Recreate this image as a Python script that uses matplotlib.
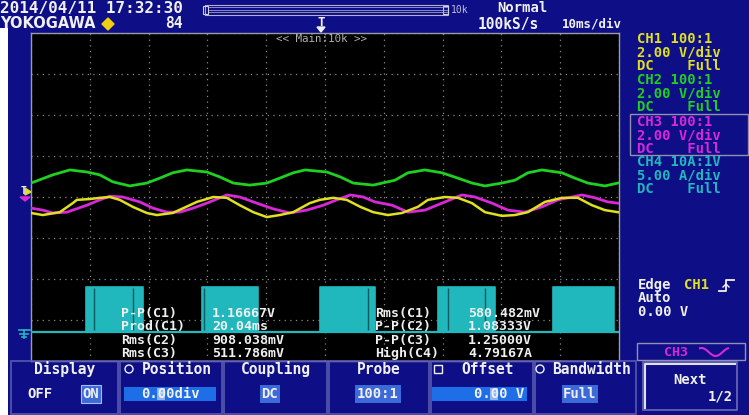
import matplotlib
matplotlib.use("Agg")
import matplotlib.pyplot as plt
from matplotlib.patches import Rectangle, Polygon, Circle
import numpy as np

# ---------------- data (time in ms, level in screen divisions) ----------------
ch2_t = [-50, -46.3, -43.4, -40.5, -38.3, -36.1, -33.2, -30.3, -28.1, -25.9, -23.5,
         -20.1, -17.9, -15.6, -12.8, -9.9, -7.7, -5.4, -3.4, 0.3, 2.6, 4.8, 8.2,
         11.9, 14.1, 17.0, 19.9, 22.6, 25.0, 27.2, 30.1, 32.3, 34.5, 36.9, 40.3,
         42.5, 44.7, 47.6, 49.8]
ch2_div = [0.34, 0.54, 0.66, 0.61, 0.54, 0.37, 0.27, 0.34, 0.46, 0.59, 0.66,
           0.61, 0.49, 0.34, 0.29, 0.34, 0.46, 0.59, 0.66, 0.61, 0.49, 0.34, 0.29,
           0.41, 0.59, 0.66, 0.59, 0.46, 0.34, 0.27, 0.34, 0.41, 0.59, 0.66, 0.59,
           0.46, 0.34, 0.27, 0.34]

ch1_t = [-50, -48, -45.1, -42.9, -42.2, -40.0, -38.3, -36.6, -34.9, -32.7, -30.3,
         -28.6, -25.9, -23.0, -21.8, -19.0, -16.7, -14.5, -12.2, -9.9, -7.7, -5.4,
         -2.6, -0.9, 1.4, 3.7, 6.0, 8.2, 10.7, 13.1, 15.8, 17.5, 20.4, 22.6, 25.0,
         27.2, 30.1, 32.3, 34.5, 37.4, 40.3, 43.0, 45.4, 47.6, 49.8]
ch1_div = [-0.39, -0.44, -0.37, -0.15, -0.07, -0.05, -0.02, 0.0, -0.07, -0.24, -0.39,
           -0.44, -0.39, -0.20, -0.12, 0.0, -0.02, -0.20, -0.37, -0.49, -0.44, -0.37,
           -0.15, -0.07, -0.02, -0.07, -0.24, -0.37, -0.44, -0.39, -0.24, -0.07, 0.0,
           -0.02, -0.15, -0.37, -0.46, -0.44, -0.37, -0.12, -0.02, -0.02, -0.20,
           -0.32, -0.37]

ch3_t = [-50, -48, -46.3, -43.9, -40.5, -38.3, -36.6, -34.4, -31.5, -29.3, -26.9,
         -24.7, -22.4, -20.1, -16.7, -14.5, -11.6, -8.8, -6.0, -3.1, -0.3, 2.0, 4.3,
         6.5, 8.5, 11.4, 14.1, 17.0, 19.9, 23.3, 25.5, 28.4, 31.1, 34.0, 36.9, 39.6,
         43.7, 45.9, 48.1, 49.8]
ch3_div = [-0.27, -0.32, -0.39, -0.37, -0.20, -0.07, 0.02, 0.0, -0.12, -0.27, -0.37,
           -0.37, -0.27, -0.15, 0.05, 0.0, -0.15, -0.29, -0.39, -0.32, -0.20, -0.07,
           0.05, 0.0, -0.12, -0.20, -0.37, -0.32, -0.15, 0.05, 0.0, -0.15, -0.32,
           -0.37, -0.24, -0.07, 0.05, -0.02, -0.12, -0.15]

ch4_pulse_start = [-40.6, -20.9, -0.9, 19.2, 38.8]
ch4_pulse_end = [-31.0, -11.4, 8.5, 28.9, 49.1]
ch4_gaps = [-39.3, -32.7, -20.6, 7.3, 20.9, 27.2]
ch4_low = -3.29
ch4_high = -2.20

date_text = "2014/04/11 17:32:30"
brand_text = "YOKOGAWA"
acq_count = "84"
trig_mode = "Normal"
sample_rate = "100kS/s"
time_div = "10ms/div"
zoom_label = "<< Main:10k >>"
mem_label = "10k"

ch_info = [["CH1 100:1", "2.00 V/div", "DC    Full"],
           ["CH2 100:1", "2.00 V/div", "DC    Full"],
           ["CH3 100:1", "2.00 V/div", "DC    Full"],
           ["CH4 10A:1V", "5.00 A/div", "DC    Full"]]

meas_left_names = ["P-P(C1)", "Prod(C1)", "Rms(C2)", "Rms(C3)"]
meas_left_vals = ["1.16667V", "20.04ms", "908.038mV", "511.786mV"]
meas_right_names = ["Rms(C1)", "P-P(C2)", "P-P(C3)", "High(C4)"]
meas_right_vals = ["580.482mV", "1.08333V", "1.25000V", "4.79167A"]

menu_labels = ["Display", "Position", "Coupling", "Probe", "Offset", "Bandwidth"]
trig_lines = ["Edge", "Auto", "0.00 V"]

# ---------------- styles ----------------
BG = "#0e0e86"
YEL = "#e0e020"
GRN = "#20d020"
MAG = "#d828d8"
CYN = "#20b8bc"
WHITE = "#f0f0f0"
MONO = "DejaVu Sans Mono"
ch_colors = [YEL, GRN, MAG, CYN]

W, H = 749, 415
fig = plt.figure(figsize=(W / 100, H / 100), dpi=100, facecolor=BG)

# scope display axes
L, T, R, B = 31, 33, 619, 361
ax = fig.add_axes([L / W, (H - B) / H, (R - L) / W, (B - T) / H])
ax.set_facecolor("black")
ax.set_xlim(-50, 50)
ax.set_ylim(-4, 4)
ax.set_xticks(np.arange(-50, 51, 10))
ax.set_yticks(np.arange(-4, 5, 1))
ax.tick_params(length=0, labelbottom=False, labelleft=False)
ax.grid(True, color="#8a8a8a", linestyle=(0, (1, 3.5)), linewidth=0.9)
for s in ax.spines.values():
    s.set_color("#9a9aa8")
    s.set_linewidth(1.0)

# CH4 current trace
ax.plot([-50, 50], [ch4_low, ch4_low], color=CYN, lw=1.6, zorder=3)
for s, e in zip(ch4_pulse_start, ch4_pulse_end):
    ax.fill_between([s, e], ch4_low, ch4_high, color=CYN, lw=0, zorder=3)
    ax.plot([s, s, e, e], [ch4_low, ch4_high, ch4_high, ch4_low], color=CYN, lw=1.2, zorder=3)
ax.vlines(ch4_gaps, ch4_low + 0.05, ch4_high - 0.03, color="#0b5c60", lw=1.0, zorder=3)

# voltage traces
ax.plot(ch2_t, ch2_div, color=GRN, lw=2.0, zorder=4)
ax.plot(ch3_t, ch3_div, color=MAG, lw=2.0, zorder=4)
ax.plot(ch1_t, ch1_div, color=YEL, lw=1.8, zorder=5)

# ---------------- overlay in pixel coordinates ----------------
ov = fig.add_axes([0, 0, 1, 1])
ov.set_xlim(0, W)
ov.set_ylim(H, 0)
ov.axis("off")
ov.patch.set_alpha(0)


def txt(x, y, s, color=WHITE, size=10.5, ha="left", family=MONO):
    ov.text(x, y, s, color=color, fontsize=size, ha=ha, va="center",
            family=family, fontweight="bold")


def boxed(x, y, s, fc, ec="none"):
    ov.text(x, y, s, color=WHITE, fontsize=10, ha="center", va="center", family=MONO,
            fontweight="bold", bbox=dict(boxstyle="square,pad=0.12", fc=fc, ec=ec, lw=0.8))


# left white strip
ov.add_patch(Rectangle((0, 28), 8, H - 28, color="white", lw=0))

# header
txt(0, 9, date_text, size=11.5)
txt(0, 24, brand_text, size=10.5, family="DejaVu Sans")
ov.add_patch(Polygon([[108, 18], [114, 24], [108, 30], [102, 24]], closed=True, color="#f0d010"))
txt(165, 24, acq_count, size=10.5)
# memory bar
ov.add_patch(Rectangle((205, 5), 243, 10, fill=False, ec="#b0b0d0", lw=0.8))
for yy in (7.5, 10, 12.5):
    ov.plot([209, 447], [yy, yy], color="#a0a0c8", lw=0.6)
ov.add_patch(Rectangle((203, 6), 5, 8, fill=False, ec="#d0d0e0", lw=0.8))
ov.add_patch(Rectangle((443, 6), 5, 8, fill=False, ec="#d0d0e0", lw=0.8))
ov.text(451, 10, mem_label, color="#c0c0d8", fontsize=7, va="center", family=MONO)
txt(497, 8, trig_mode, size=10)
txt(478, 24, sample_rate, size=10.5)
txt(562, 24, time_div, size=9)
# trigger position marker
txt(321, 23, "T", size=9, ha="center")
ov.add_patch(Polygon([[317, 27], [325, 27], [321, 32]], closed=True, color=WHITE))
# zoom label
ov.text(321, 39, zoom_label, color="#b0b0b0", fontsize=7.8, ha="center", va="center", family=MONO)

# left margin markers
txt(21, 191, "T", size=7)
ov.add_patch(Polygon([[25, 188], [31, 192], [25, 195]], closed=True, color=YEL))
ov.add_patch(Polygon([[20, 197], [30, 197], [25, 201]], closed=True, color=MAG))
ov.plot([19, 30], [330, 330], color=CYN, lw=1.2)
ov.plot([24, 24], [330, 338], color=CYN, lw=1.2)
ov.plot([20, 28], [334, 334], color=CYN, lw=1.2)
ov.plot([22, 26], [337, 337], color=CYN, lw=1.2)

# right channel panel
ch_y0 = [39, 80, 122, 162]
for i, lines in enumerate(ch_info):
    for j, s in enumerate(lines):
        txt(637, ch_y0[i] + j * 13.7, s, color=ch_colors[i], size=10)
ov.add_patch(Rectangle((630, 114), 118, 41, fill=False, ec="#9090b0", lw=1.0))

# trigger panel
txt(638, 285, trig_lines[0], size=10)
txt(684, 285, "CH1", color=YEL, size=10)
ov.plot([719, 726, 726, 734], [291, 291, 280, 280], color=WHITE, lw=1.3)
ov.plot([723, 726, 729], [287, 284, 287], color=WHITE, lw=1.0)
txt(638, 298, trig_lines[1], size=10)
txt(638, 312, trig_lines[2], size=10)
ov.add_patch(Rectangle((637, 343), 108, 17, fill=False, ec="#9090b0", lw=1.0))
txt(664, 352, "CH3", color=MAG, size=9.5)
sx = np.linspace(700, 728, 30)
ov.plot(sx, 352 - 4 * np.sin((sx - 700) / 28 * 2 * np.pi + 1.2), color=MAG, lw=1.5)

# measurements
meas_y = [313, 326.5, 340, 353.5]
for i in range(4):
    txt(121, meas_y[i], meas_left_names[i], size=9.5)
    txt(212, meas_y[i], meas_left_vals[i], size=9.5)
    txt(375, meas_y[i], meas_right_names[i], size=9.5)
    txt(468, meas_y[i], meas_right_vals[i], size=9.5)

# bottom soft-key menu
box_edges = [10, 119, 223, 328, 430, 534, 637]
for k in range(6):
    x0, x1 = box_edges[k], box_edges[k + 1]
    ov.add_patch(Rectangle((x0 + 1, 361), x1 - x0 - 2, 53, fill=False, ec="#5858b0", lw=1.2))
    txt((x0 + x1) / 2 + (6 if k in (1, 4, 5) else 0), 369, menu_labels[k], size=10.5, ha="center")
# icons
ov.add_patch(Circle((129, 369), 4, fill=False, ec=WHITE, lw=1.0))
ov.add_patch(Rectangle((434, 365), 8, 8, fill=False, ec=WHITE, lw=1.0))
ov.add_patch(Circle((540, 369), 4, fill=False, ec=WHITE, lw=1.0))

# values
txt(27, 394, "OFF", size=10)
boxed(91, 394, "ON", "#3c6ad8", "#9cc0ff")
ov.add_patch(Rectangle((124, 387), 92, 14, color="#1e6ee8", lw=0))
ov.add_patch(Rectangle((157, 388), 8, 12, color="#8fb4f4", lw=0))
txt(170, 394, "0.00div", size=10, ha="center")
boxed(270, 394, "DC", "#3c6ad8")
boxed(378, 394, "100:1", "#3c6ad8")
ov.add_patch(Rectangle((432, 387), 95, 14, color="#1e6ee8", lw=0))
ov.add_patch(Rectangle((490, 388), 8, 12, color="#8fb4f4", lw=0))
txt(524, 394, "0.00 V", size=10, ha="right")
boxed(580, 394, "Full", "#3c6ad8")

# Next key
ov.add_patch(Rectangle((643, 362), 94, 48, fill=False, ec="#6a6ab8", lw=1.2))
ov.plot([645, 645, 735], [408, 364, 364], color="#e0e0f0", lw=1.5)
txt(690, 380, "Next", size=10, ha="center")
txt(720, 396, "1/2", size=10, ha="center")

fig.savefig("out.png", dpi=100, facecolor=BG)
